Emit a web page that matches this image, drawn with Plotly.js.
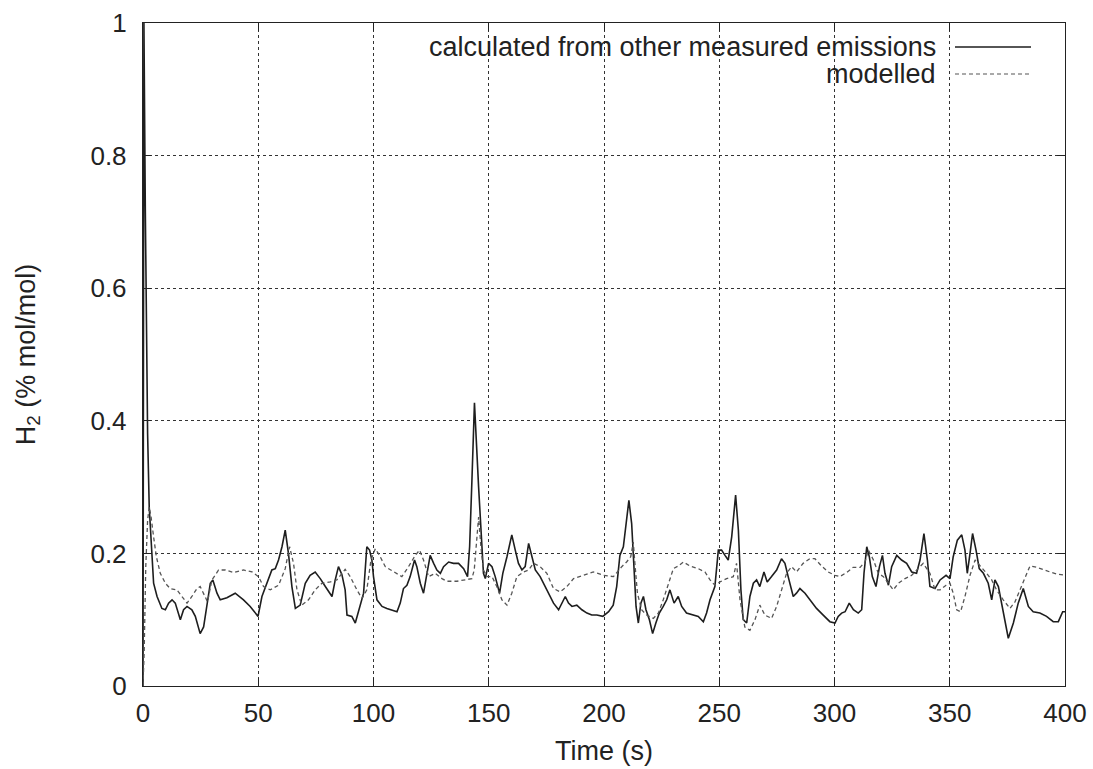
<!DOCTYPE html>
<html>
<head>
<meta charset="utf-8">
<script src="https://cdn.plot.ly/plotly-3.0.1.min.js"></script>
<style>html,body{margin:0;padding:0;background:#fff}#chart{width:1093px;height:769px}</style>
</head>
<body>
<div id="chart"></div>
<script>
const measuredTime = [0,0.4,1,2,2.7,3.9,4.6,6.1,8.2,9.7,11.1,12.6,14,16.2,17.6,19.1,21.2,22.7,24.8,26.3,27.7,29.2,30.3,32.1,33.5,36.4,40,43.6,46.5,49.9,51.6,53.8,55.9,57.4,58.8,60.3,61.7,63.1,64.6,66.1,68.2,70.4,72.5,74.7,76.9,79.1,82,83.4,84.8,86.3,87.7,88.5,90.6,92.1,94.2,95.7,97.1,98.3,99.3,100,101.5,103.7,105.8,108,110.2,111.6,113,114.5,115.9,117.8,118.8,120.3,121.7,123.2,124.6,126.1,127.5,129,130.4,132.6,134.7,136.9,139.1,140.8,141.7,142.7,143.8,145.6,147,147.7,148.5,149.9,151.4,152.8,154.7,156.1,157.9,160,161.5,162.9,164.4,165.8,167.3,168.7,170.2,172.3,173.8,175.9,178.1,180.3,181.7,183.2,184.6,186.1,188.2,190.4,192.6,194.7,196.9,199.5,202,204,205.5,206.9,208.4,209.8,210.8,212,213,213.9,214.9,216,217.1,218.2,219.7,221.1,222.5,224,225.7,227.2,228.6,230.4,232.2,233.7,235.8,238.7,240.9,243.1,244.5,246,248.1,249.6,251,252.5,253.9,255.4,257.1,258.3,259.4,260.4,261.9,263.3,264.8,266.2,267.6,269.4,270.8,272.7,274.9,277,278.5,279.9,282.1,283.5,285,287.2,289.3,292.2,295.1,298,300.2,301.6,303.1,304.6,306.4,308.2,310.3,311.8,312.8,314,315.1,316.4,318,319.5,320.8,321.9,323.4,324.8,327,329.1,331.3,333.5,335.6,337.1,338.8,340.3,341.4,343.6,345.8,348.4,350.1,351.5,353.3,355.2,356.6,357.6,358.8,359.9,361.4,362.8,364.6,366.7,368.2,369.6,371.1,373.2,375.4,377.6,379.7,381.9,384.1,386.2,389.1,392,394.9,397.1,399,400];
const measuredH2 = [0,1.0,0.72,0.38,0.27,0.195,0.155,0.135,0.117,0.115,0.125,0.13,0.125,0.10,0.115,0.12,0.115,0.105,0.079,0.089,0.12,0.155,0.16,0.14,0.13,0.133,0.14,0.13,0.12,0.105,0.135,0.155,0.175,0.177,0.19,0.21,0.235,0.2,0.15,0.117,0.122,0.155,0.167,0.172,0.162,0.15,0.135,0.16,0.18,0.168,0.145,0.107,0.105,0.095,0.12,0.14,0.21,0.205,0.19,0.165,0.13,0.12,0.117,0.115,0.112,0.125,0.147,0.152,0.165,0.19,0.18,0.155,0.14,0.17,0.197,0.185,0.175,0.17,0.18,0.187,0.185,0.185,0.177,0.165,0.21,0.31,0.427,0.3,0.21,0.17,0.162,0.185,0.18,0.165,0.14,0.17,0.195,0.228,0.205,0.185,0.175,0.18,0.215,0.195,0.175,0.165,0.155,0.14,0.125,0.115,0.125,0.135,0.125,0.12,0.122,0.115,0.11,0.107,0.107,0.105,0.112,0.122,0.15,0.197,0.21,0.255,0.28,0.245,0.185,0.12,0.095,0.125,0.135,0.115,0.1,0.079,0.095,0.11,0.12,0.13,0.145,0.125,0.135,0.12,0.11,0.107,0.105,0.097,0.11,0.13,0.15,0.205,0.205,0.197,0.19,0.225,0.288,0.235,0.145,0.1,0.095,0.135,0.155,0.16,0.15,0.172,0.157,0.165,0.175,0.192,0.185,0.165,0.135,0.14,0.147,0.14,0.13,0.117,0.107,0.097,0.095,0.105,0.11,0.112,0.125,0.115,0.11,0.115,0.17,0.21,0.195,0.165,0.15,0.18,0.197,0.17,0.152,0.18,0.197,0.19,0.185,0.172,0.17,0.19,0.23,0.19,0.15,0.147,0.16,0.167,0.162,0.195,0.22,0.228,0.205,0.17,0.2,0.23,0.205,0.177,0.17,0.155,0.13,0.16,0.15,0.11,0.072,0.095,0.125,0.147,0.12,0.112,0.11,0.105,0.097,0.097,0.112,0.112];

const modelTime = [0,0.5,1.2,2,2.7,3.5,4.6,5.8,7.5,9.7,11.8,14.7,16.9,19.1,21.2,23.4,24.8,26.3,28,29.9,32.8,35.7,39.3,43.6,47.3,50.1,52.3,55.2,58.8,61.7,63.6,65.3,66.8,68.9,71.8,74.7,77.6,81.3,84.1,87.7,89.9,92.8,95,97.1,98.9,100.8,102.9,105.1,108.7,112.3,115.2,118.1,120,121.7,123.9,126.8,129.7,131.8,136.2,140.5,142.7,143.7,144.9,145.6,146.6,147.7,149.2,151.4,153.5,155.7,157.9,160,162.2,165.1,167.3,169.4,172.3,175.2,178.1,181,183.9,186.8,191.1,195.4,199.8,204.1,207.7,209.8,211.6,212.7,213.4,214.5,216.3,218.5,221.4,223.6,225.7,227.9,230.1,232.2,234.4,237.3,240.9,243.8,246,248.1,250.3,253.2,256.1,257.5,259,261.1,263.3,265.5,267.6,269.8,272.7,274.9,277,279.2,281.4,283.5,286.4,289.3,291.5,294.4,297.3,300.2,302.3,305.2,308.1,311.1,313.2,314.7,316.9,319,321.2,323.4,325.5,327.7,330.6,333.5,336.4,338.5,341.4,343.6,345.8,348.4,350.1,351.5,353,354.7,356.6,358.8,361,363.1,366,368.2,370.3,373.2,376.1,378.3,380.5,382.6,384.8,387.7,390.6,393.5,396.4,400];
const modelH2 = [0,0.05,0.18,0.25,0.27,0.255,0.225,0.195,0.17,0.155,0.147,0.145,0.135,0.125,0.135,0.147,0.15,0.14,0.127,0.16,0.175,0.175,0.171,0.175,0.172,0.165,0.15,0.145,0.152,0.177,0.21,0.185,0.145,0.122,0.13,0.145,0.155,0.157,0.16,0.176,0.165,0.145,0.132,0.145,0.19,0.207,0.195,0.18,0.172,0.165,0.18,0.197,0.205,0.19,0.165,0.17,0.162,0.158,0.158,0.16,0.162,0.175,0.23,0.255,0.21,0.175,0.165,0.165,0.15,0.13,0.122,0.14,0.165,0.172,0.175,0.185,0.18,0.17,0.147,0.142,0.15,0.162,0.167,0.172,0.167,0.165,0.18,0.187,0.195,0.217,0.185,0.14,0.115,0.107,0.102,0.11,0.13,0.155,0.177,0.181,0.187,0.181,0.177,0.172,0.16,0.152,0.157,0.162,0.165,0.185,0.13,0.089,0.084,0.1,0.122,0.107,0.102,0.12,0.145,0.17,0.18,0.172,0.185,0.192,0.192,0.181,0.172,0.167,0.165,0.171,0.179,0.179,0.187,0.205,0.19,0.17,0.165,0.155,0.145,0.155,0.162,0.167,0.177,0.185,0.17,0.145,0.145,0.152,0.155,0.14,0.115,0.112,0.135,0.167,0.19,0.182,0.17,0.16,0.145,0.13,0.117,0.127,0.145,0.162,0.181,0.179,0.175,0.172,0.169,0.167];

const xTicks = [0,50,100,150,200,250,300,350,400];
const yTicks = [0,0.2,0.4,0.6,0.8,1];
const yTickText = ['0','0.2','0.4','0.6','0.8','1'];
const seriesNames = ['calculated from other measured emissions','modelled'];

const FONT = 'Liberation Sans, Arial, sans-serif';
const traces = [
  {x: measuredTime, y: measuredH2, type:'scatter', mode:'lines', name: seriesNames[0],
   line:{color:'#1e1e1e', width:1.6}},
  {x: modelTime, y: modelH2, type:'scatter', mode:'lines', name: seriesNames[1],
   line:{color:'#555555', width:1.3, dash:'4px,3px'}}
];

const axisCommon = {
  showline:true, mirror:'ticks', linecolor:'#222', linewidth:1.2,
  ticks:'inside', ticklen:8, tickcolor:'#222', tickwidth:1,
  showgrid:true, gridcolor:'#333', griddash:'dot', gridwidth:1,
  zeroline:false, tickfont:{family:FONT, size:26, color:'#222'}
};

const plotL = 143, plotR = 1065, plotT = 23, plotB = 686;
const px = v => (v - plotL) / (plotR - plotL);
const py = v => (plotB - v) / (plotB - plotT);

const layout = {
  width:1093, height:769,
  margin:{l:plotL, r:1093-plotR, t:plotT, b:769-plotB},
  paper_bgcolor:'#fff', plot_bgcolor:'#fff',
  showlegend:false,
  font:{family:FONT, color:'#222'},
  xaxis: Object.assign({}, axisCommon, {
    range:[0,400], tickvals:xTicks, ticktext:xTicks.map(String),
    ticklabelstandoff:4,
    title:{text:'Time (s)', font:{family:FONT, size:27, color:'#222'}, standoff:13}
  }),
  yaxis: Object.assign({}, axisCommon, {
    range:[0,1], tickvals:yTicks, ticktext:yTickText,
    ticklabelstandoff:10,
    title:{text:'H<sub>2</sub> (% mol/mol)', font:{family:FONT, size:27, color:'#222'}, standoff:47}
  }),
  shapes:[
    {type:'rect', xref:'paper', yref:'paper', x0:px(330), x1:px(1062), y0:py(88), y1:py(32),
     fillcolor:'#fff', line:{width:0}, layer:'between'},
    {type:'line', xref:'paper', yref:'paper', x0:px(955), x1:px(1031), y0:py(47), y1:py(47),
     line:{color:'#1e1e1e', width:1.3}},
    {type:'line', xref:'paper', yref:'paper', x0:px(955), x1:px(1031), y0:py(74), y1:py(74),
     line:{color:'#555', width:1.1, dash:'4px,3px'}}
  ],
  annotations:[
    {xref:'paper', yref:'paper', x:px(938), y:py(47), xanchor:'right', yanchor:'middle',
     text:seriesNames[0], showarrow:false, font:{family:FONT, size:27, color:'#222'}},
    {xref:'paper', yref:'paper', x:px(938), y:py(74), xanchor:'right', yanchor:'middle',
     text:seriesNames[1], showarrow:false, font:{family:FONT, size:27, color:'#222'}}
  ]
};

Plotly.newPlot('chart', traces, layout, {staticPlot:true, displayModeBar:false});
</script>
</body>
</html>
